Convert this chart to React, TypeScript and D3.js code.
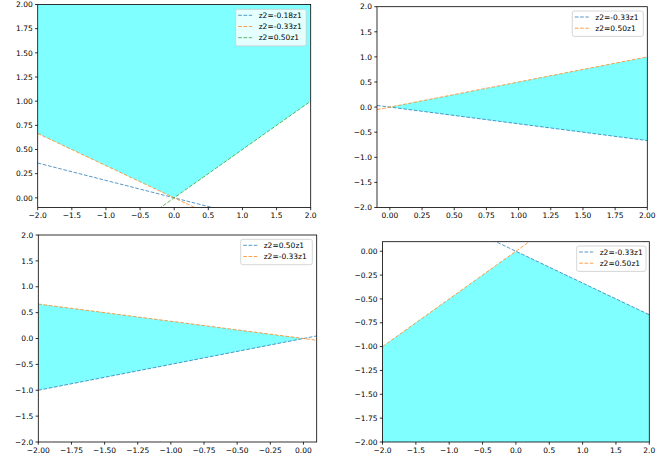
import React from "react";
import * as d3 from "d3";

// Data
const p1Slopes = [-0.18, -0.333, 0.5];
const p1Labels = ["z2=-0.18z1", "z2=-0.33z1", "z2=0.50z1"];
const p2Slopes = [-0.333, 0.5];
const p2Labels = ["z2=-0.33z1", "z2=0.50z1"];
const p3Slopes = [0.5, -0.333];
const p3Labels = ["z2=0.50z1", "z2=-0.33z1"];
const p4Slopes = [-0.333, 0.5];
const p4Labels = ["z2=-0.33z1", "z2=0.50z1"];

const ticksA = [-2, -1.5, -1, -0.5, 0, 0.5, 1, 1.5, 2];
const ticksPos25 = [0, 0.25, 0.5, 0.75, 1, 1.25, 1.5, 1.75, 2];
const ticksNeg25 = [-2, -1.75, -1.5, -1.25, -1, -0.75, -0.5, -0.25, 0];

const COLORS = ["#1f77b4", "#ff7f0e", "#2ca02c"];
const FONT = "DejaVu Sans, sans-serif";

type FillSpec = { xs: number[]; lower: (x: number) => number; upper: (x: number) => number };

type PlotProps = {
  box: { l: number; r: number; t: number; b: number };
  xDomain: [number, number];
  yDomain: [number, number];
  xTicks: number[];
  yTicks: number[];
  xDec: number;
  yDec: number;
  slopes: number[];
  labels: string[];
  fill: FillSpec;
  legend: { x: number; y: number; w: number };
  id: string;
};

const fmt = (v: number, dec: number) => {
  const s = Math.abs(v).toFixed(dec);
  return (v < -1e-9 ? "\u2212" : "") + s;
};

function Plot(p: PlotProps) {
  const { box } = p;
  const x = d3.scaleLinear().domain(p.xDomain).range([box.l, box.r]);
  const y = d3.scaleLinear().domain(p.yDomain).range([box.b, box.t]);
  const area = d3
    .area<number>()
    .x((d) => x(d))
    .y0((d) => y(p.fill.lower(d)))
    .y1((d) => y(p.fill.upper(d)));
  const line = d3
    .line<number>()
    .x((d) => x(d))
    .y((d) => y(d[1] as any));
  const lineFor = (s: number) => {
    const pts = p.xDomain.map((xv) => [x(xv), y(s * xv)] as [number, number]);
    return d3.line()(pts) || "";
  };
  void line;
  const rowH = 11.2;
  const lh = p.labels.length * rowH + 3;
  return (
    <g>
      <defs>
        <clipPath id={p.id}>
          <rect x={box.l} y={box.t} width={box.r - box.l} height={box.b - box.t} />
        </clipPath>
      </defs>
      <g clipPath={`url(#${p.id})`}>
        <path d={area(p.fill.xs) || ""} fill="#00ffff" fillOpacity={0.5} />
        {p.slopes.map((s, i) => (
          <path
            key={i}
            d={lineFor(s)}
            fill="none"
            stroke={COLORS[i]}
            strokeOpacity={0.75}
            strokeWidth={1}
            strokeDasharray="3.7,1.6"
          />
        ))}
      </g>
      <rect
        x={box.l}
        y={box.t}
        width={box.r - box.l}
        height={box.b - box.t}
        fill="none"
        stroke="#000"
        strokeWidth={0.8}
      />
      {p.xTicks.map((t, i) => (
        <g key={"x" + i}>
          <line x1={x(t)} x2={x(t)} y1={box.b} y2={box.b + 2.7} stroke="#000" strokeWidth={0.8} />
          <text
            x={x(t)}
            y={box.b + 5}
            dy="0.76em"
            textAnchor="middle"
            fontSize={7.5}
            fontFamily={FONT}
            fill="#000"
          >
            {fmt(t, p.xDec)}
          </text>
        </g>
      ))}
      {p.yTicks.map((t, i) => (
        <g key={"y" + i}>
          <line x1={box.l - 2.7} x2={box.l} y1={y(t)} y2={y(t)} stroke="#000" strokeWidth={0.8} />
          <text
            x={box.l - 5}
            y={y(t)}
            dy="0.36em"
            textAnchor="end"
            fontSize={7.5}
            fontFamily={FONT}
            fill="#000"
          >
            {fmt(t, p.yDec)}
          </text>
        </g>
      ))}
      <g>
        <rect
          x={p.legend.x}
          y={p.legend.y}
          width={p.legend.w}
          height={lh}
          rx={2}
          fill="#fff"
          fillOpacity={0.8}
          stroke="#cccccc"
          strokeWidth={0.8}
        />
        {p.labels.map((lab, i) => {
          const cy = p.legend.y + 6 + i * rowH;
          return (
            <g key={i}>
              <line
                x1={p.legend.x + 2.5}
                x2={p.legend.x + 16.5}
                y1={cy}
                y2={cy}
                stroke={COLORS[i]}
                strokeOpacity={0.75}
                strokeWidth={1}
                strokeDasharray="3.7,1.6"
              />
              <text
                x={p.legend.x + 23}
                y={cy}
                dy="0.36em"
                fontSize={7.5}
                fontFamily={FONT}
                fill="#000"
              >
                {lab}
              </text>
            </g>
          );
        })}
      </g>
    </g>
  );
}

export default function App() {
  const maxOf = (a: number, b: number) => (xv: number) => Math.max(a * xv, b * xv);
  const minOf = (a: number, b: number) => (xv: number) => Math.min(a * xv, b * xv);
  return (
    <svg width={670} height={459} style={{ position: "absolute", left: 0, top: 0, background: "#fff" }}>
      <rect x={0} y={0} width={670} height={459} fill="#fff" />
      <Plot
        id="c1"
        box={{ l: 37.7, r: 310.7, t: 4.5, b: 207.5 }}
        xDomain={[-2, 2]}
        yDomain={[-0.1, 2]}
        xTicks={ticksA}
        yTicks={ticksPos25}
        xDec={1}
        yDec={2}
        slopes={p1Slopes}
        labels={p1Labels}
        fill={{ xs: [-2, 0, 2], lower: maxOf(p1Slopes[1], p1Slopes[2]), upper: () => 2 }}
        legend={{ x: 235.7, y: 9.3, w: 70.5 }}
      />
      <Plot
        id="c2"
        box={{ l: 377, r: 647.3, t: 6.7, b: 207.5 }}
        xDomain={[-0.1, 2]}
        yDomain={[-2, 2]}
        xTicks={ticksPos25}
        yTicks={ticksA}
        xDec={2}
        yDec={1}
        slopes={p2Slopes}
        labels={p2Labels}
        fill={{ xs: [0, 2], lower: (v) => p2Slopes[0] * v, upper: (v) => p2Slopes[1] * v }}
        legend={{ x: 572.3, y: 11, w: 71 }}
      />
      <Plot
        id="c3"
        box={{ l: 38.3, r: 316.7, t: 235, b: 442 }}
        xDomain={[-2, 0.1]}
        yDomain={[-2, 2]}
        xTicks={ticksNeg25}
        yTicks={ticksA}
        xDec={2}
        yDec={1}
        slopes={p3Slopes}
        labels={p3Labels}
        fill={{ xs: [-2, 0], lower: (v) => p3Slopes[0] * v, upper: (v) => p3Slopes[1] * v }}
        legend={{ x: 240.7, y: 239.3, w: 71.6 }}
      />
      <Plot
        id="c4"
        box={{ l: 382.5, r: 649.3, t: 241.7, b: 442 }}
        xDomain={[-2, 2]}
        yDomain={[-2, 0.1]}
        xTicks={ticksA}
        yTicks={ticksNeg25}
        xDec={1}
        yDec={2}
        slopes={p4Slopes}
        labels={p4Labels}
        fill={{ xs: [-2, 0, 2], lower: () => -2, upper: minOf(p4Slopes[0], p4Slopes[1]) }}
        legend={{ x: 576.7, y: 246, w: 69.3 }}
      />
    </svg>
  );
}
